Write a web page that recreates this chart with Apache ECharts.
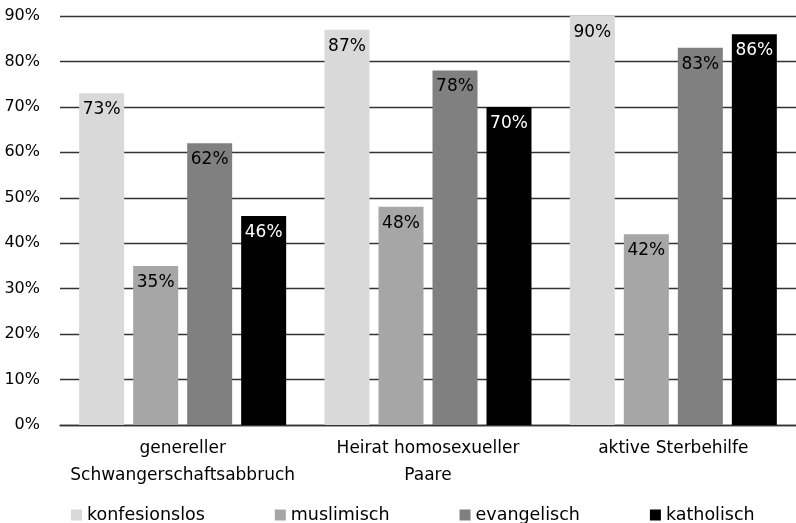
<!DOCTYPE html>
<html>
<head>
<meta charset="utf-8">
<script src="https://cdn.jsdelivr.net/npm/echarts@6/dist/echarts.min.js"></script>
<style>
html, body { margin: 0; padding: 0; background: #fff; }
#chart { width: 796px; height: 523px; }
</style>
</head>
<body>
<div id="chart"></div>
<script>
// Kategorien und Werte (Prozent)
var categories = ['genereller\nSchwangerschaftsabbruch', 'Heirat homosexueller\nPaare', 'aktive Sterbehilfe'];
var konfesionslos = [73, 87, 90];
var muslimisch = [35, 48, 42];
var evangelisch = [62, 78, 83];
var katholisch = [46, 70, 86];

var font = 'DejaVu Sans';

function barSeries(name, data, color, labelColor) {
    return {
        name: name,
        type: 'bar',
        data: data,
        barWidth: 45,
        barGap: '20%',
        itemStyle: { color: color },
        label: {
            show: true,
            position: 'insideTop',
            distance: 8,
            formatter: '{c}%',
            color: labelColor,
            fontFamily: font,
            fontSize: 17
        }
    };
}

var chart = echarts.init(document.getElementById('chart'));

chart.setOption({
    animation: false,
    textStyle: { fontFamily: font },
    grid: { left: 60, right: -7, top: 16, bottom: 98, containLabel: false },
    legend: {
        left: 66,
        top: 501,
        icon: 'rect',
        itemWidth: 11,
        itemHeight: 11,
        itemGap: 70,
        itemStyle: { borderWidth: 0 },
        textStyle: { fontFamily: font, fontSize: 17.5, color: '#000' },
        data: ['konfesionslos', 'muslimisch', 'evangelisch', 'katholisch']
    },
    xAxis: {
        type: 'category',
        data: categories,
        axisLine: { lineStyle: { color: '#333', width: 1.3 } },
        axisTick: { show: false },
        axisLabel: {
            fontFamily: font,
            fontSize: 17,
            color: '#000',
            lineHeight: 27,
            margin: 10,
            interval: 0
        }
    },
    yAxis: {
        type: 'value',
        min: 0,
        max: 90,
        interval: 10,
        axisLine: { show: false },
        axisTick: { show: false },
        splitLine: { lineStyle: { color: '#333', width: 1.3 } },
        axisLabel: {
            formatter: '{value}%',
            fontFamily: font,
            fontSize: 16,
            color: '#000',
            margin: 20
        }
    },
    series: [
        barSeries('konfesionslos', konfesionslos, '#d9d9d9', '#000'),
        barSeries('muslimisch', muslimisch, '#a6a6a6', '#000'),
        barSeries('evangelisch', evangelisch, '#808080', '#000'),
        barSeries('katholisch', katholisch, '#000000', '#fff')
    ]
});
</script>
</body>
</html>
